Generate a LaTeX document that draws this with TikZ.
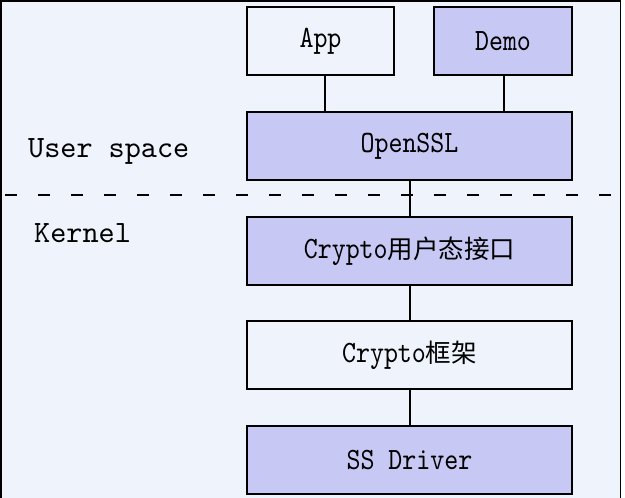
\documentclass[tikz,border=0pt]{standalone}
\usepackage{fontspec}
\newfontfamily\boxfont[Extension=.otf, FakeStretch=0.86]{lmmono10-regular}
\newfontfamily\labfont[Extension=.otf, FakeStretch=0.99]{lmmono10-regular}
\newfontfamily\cjkfont{Noto Sans CJK SC}
\newcommand{\cjktext}[1]{{\fontsize{25.5}{25.5}\cjkfont #1}}
\definecolor{bgc}{RGB}{238,243,252}
\definecolor{lav}{RGB}{200,200,245}
\tikzset{
  blk/.style={draw=black, line width=2pt, rectangle, inner sep=0pt, outer sep=0pt,
              minimum height=68pt, font=\fontsize{31}{31}\boxfont},
  wbox/.style={blk, fill=bgc},
  pbox/.style={blk, fill=lav},
  conn/.style={draw=black, line width=2pt},
  lab/.style={anchor=base west, inner sep=0pt, font=\fontsize{31}{31}\labfont},
  sep/.style={draw=black, line width=2pt, dash pattern=on 12pt off 21pt},
}
\begin{document}
\begin{tikzpicture}[x=1pt,y=-1pt]
\useasboundingbox (0,0) rectangle (625,498);
\fill[white] (0,0) rectangle (625,498);
\fill[bgc] (1,1) rectangle (620.5,498);
\draw[line width=1.2pt] (1,498) -- (1,1) -- (620.5,1) -- (620.5,498);

\node[wbox, minimum width=147pt] (app) at (320.5,41) {App};
\node[pbox, minimum width=138pt] (demo) at (503,41) {Demo};
\node[pbox, minimum width=325pt] (ssl) at (409.5,146) {OpenSSL};
\node[pbox, minimum width=325pt] (ui) at (409.5,251) {Crypto\cjktext{用户态接口}};
\node[wbox, minimum width=325pt] (fw) at (409.5,355) {Crypto\cjktext{框架}};
\node[pbox, minimum width=325pt] (drv) at (409.5,460) {SS Driver};

\node[lab] (us) at (28,157) {User space};
\node[lab] (kn) at (34,242) {Kernel};

\coordinate (dl) at (5,195);
\coordinate (dr) at (612,195);
\draw[sep] (dl) -- (dr);

\draw[conn] ([xshift=4.5pt]app.south) -- ([xshift=4.5pt]app.south |- ssl.north);
\draw[conn] ([xshift=1pt]demo.south) -- ([xshift=1pt]demo.south |- ssl.north);
\draw[conn] (ssl.south) -- (ui.north);
\draw[conn] (ui.south) -- (fw.north);
\draw[conn] (fw.south) -- (drv.north);
\end{tikzpicture}
\end{document}
